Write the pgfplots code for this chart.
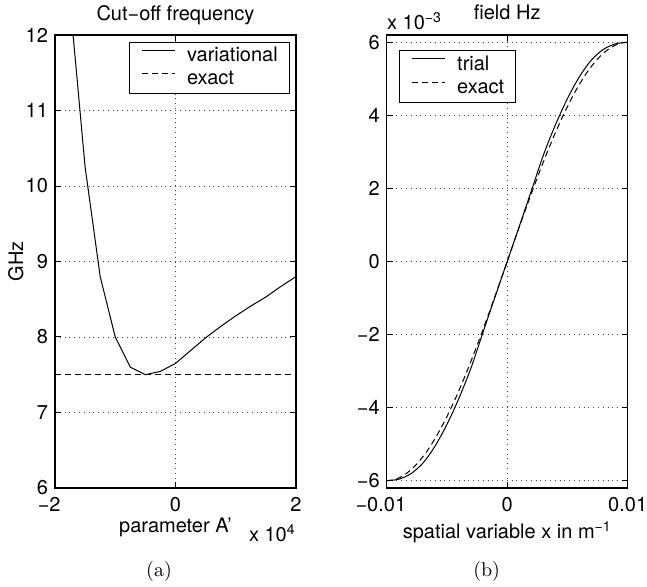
\documentclass[border=0pt]{standalone}
\usepackage{fontspec}
\setsansfont{TeX Gyre Heros}
\usepackage{pgfplots}
\pgfplotsset{compat=1.18}
\pgfplotsset{myleg/.style={legend image code/.code={%
       \draw[##1, line width=0.5pt] (0pt,3pt) -- (16.7pt,3pt);}}}
\begin{document}
\begin{tikzpicture}
\useasboundingbox (0pt,0pt) rectangle (323.5pt,293.5pt);
\pgfplotsset{
  mat/.style={
    scale only axis, width=120.5pt, height=226.5pt,
    axis line style={line width=0.6pt},
    every tick/.style={black, line width=0.5pt},
    tick align=inside, major tick length=3pt,
    xtick pos=both, ytick pos=both,
    scaled x ticks=false, scaled y ticks=false,
    grid=major,
    major grid style={black!75, line width=0.4pt, dash pattern=on 0.4pt off 2pt},
    font=\fontsize{10}{12}\sffamily,
    ticklabel style={font=\fontsize{10}{12}\sffamily},
    xticklabel style={yshift=-1.0pt},
    /pgf/number format/assume math mode=true,
    legend cell align=left,
    legend style={font=\fontsize{10}{12}\sffamily, draw=black, line width=0.6pt,
      inner xsep=5.8pt, inner ysep=2.2pt, row sep=1.95pt, column sep=5.8pt,
      nodes={inner xsep=0pt, inner ysep=0pt, text height=7.5pt, text depth=2.2pt}},
  }
}
\def\lab{\fontsize{10}{12}\sffamily}
% ---------------- (a)
\begin{axis}[mat, name=A, at={(27.5pt,49.5pt)}, anchor=south west,
  xmin=-2, xmax=2, ymin=6, ymax=12,
  xtick={-2,0,2}, xticklabels={\llap{−}2,0,2},
  ytick={6,7,8,9,10,11,12},
  legend style={at={(1,1)}, anchor=north east, xshift=-3pt, yshift=-3.3pt}]
\addplot[myleg, black, line width=0.5pt] coordinates {
 (-1.75,12.44) (-1.5,10.25) (-1.25,8.8) (-1,8.0) (-0.75,7.6) (-0.5,7.5)
 (-0.25,7.545) (0,7.65) (0.25,7.82) (0.5,7.99) (0.75,8.14) (1,8.28)
 (1.25,8.41) (1.5,8.53) (1.75,8.67) (2,8.8)};
\addlegendentry{variational}
\addplot[myleg, black, line width=0.5pt, dash pattern=on 3pt off 2pt] coordinates {(-2,7.5) (2,7.5)};
\addlegendentry{exact}
\end{axis}
% ---------------- (b)
\begin{axis}[mat, name=B, at={(193.35pt,49.5pt)}, anchor=south west,
  xmin=-0.01, xmax=0.01, ymin=-6.2, ymax=6.2,
  xtick={-0.01,0,0.01}, xticklabels={\llap{−}0.01,0,0.01},
  ytick={-6,-4,-2,0,2,4,6}, yticklabels={−6,−4,−2,0,2,4,6},
  legend style={at={(0,1)}, anchor=north west, xshift=6.15pt, yshift=-7.65pt}]
\addplot[myleg, black, line width=0.5pt, smooth] coordinates {
 (-0.010,-6.00) (-0.009,-5.96) (-0.008,-5.81) (-0.007,-5.52) (-0.006,-5.06)
 (-0.005,-4.46) (-0.004,-3.74) (-0.003,-2.91) (-0.002,-1.93) (-0.001,-0.96)
 (0,0)
 (0.001,0.96) (0.002,1.93) (0.003,2.91) (0.004,3.74) (0.005,4.46)
 (0.006,5.06) (0.007,5.52) (0.008,5.81) (0.009,5.96) (0.010,6.00)};
\addlegendentry{trial}
\addplot[myleg, black, line width=0.5pt, smooth, dash pattern=on 3pt off 2pt] coordinates {
 (-0.0100,-6.000) (-0.0095,-5.981) (-0.0090,-5.926) (-0.0085,-5.834) (-0.0080,-5.706)
 (-0.0075,-5.543) (-0.0070,-5.346) (-0.0065,-5.116) (-0.0060,-4.854) (-0.0055,-4.562)
 (-0.0050,-4.243) (-0.0045,-3.897) (-0.0040,-3.527) (-0.0035,-3.135) (-0.0030,-2.724)
 (-0.0025,-2.296) (-0.0020,-1.854) (-0.0015,-1.401) (-0.0010,-0.939) (-0.0005,-0.471)
 (0,0)
 (0.0005,0.471) (0.0010,0.939) (0.0015,1.401) (0.0020,1.854) (0.0025,2.296)
 (0.0030,2.724) (0.0035,3.135) (0.0040,3.527) (0.0045,3.897) (0.0050,4.243)
 (0.0055,4.562) (0.0060,4.854) (0.0065,5.116) (0.0070,5.346) (0.0075,5.543)
 (0.0080,5.706) (0.0085,5.834) (0.0090,5.926) (0.0095,5.981) (0.0100,6.000)};
\addlegendentry{exact}
\end{axis}
% labels (a)
\node[anchor=base, inner sep=0pt, font=\lab] at ([yshift=7.5pt]A.north) {Cut−off frequency};
\node[anchor=base, inner sep=0pt, font=\lab] at ([yshift=-22.35pt]A.south) {parameter A'};
\node[anchor=base east, inner sep=0pt, font=\lab] at ([yshift=-26.85pt]A.south east) {x 10\textsuperscript{4}};
\node[anchor=base, rotate=90, inner sep=0pt, font=\lab] at ([xshift=-16pt]A.west) {GHz};
% labels (b)
\node[anchor=base, inner sep=0pt, font=\lab] at ([yshift=7.5pt]B.north) {field Hz};
\node[anchor=base, inner sep=0pt, font=\lab] at ([yshift=-25.15pt]B.south) {spatial variable x in m\textsuperscript{−1}};
\node[anchor=base west, inner sep=0pt, font=\lab] at ([yshift=2.85pt]B.north west) {x 10\textsuperscript{−3}};
% captions
\node[anchor=base, inner sep=0pt, font=\fontsize{10}{12}\rmfamily] at (79.5pt,5.15pt) {(a)};
\node[anchor=base, inner sep=0pt, font=\fontsize{10}{12}\rmfamily] at (243.3pt,5.15pt) {(b)};
\end{tikzpicture}
\end{document}
